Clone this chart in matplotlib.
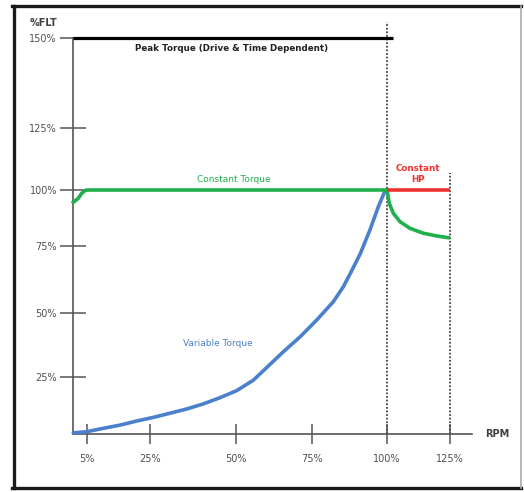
import numpy as np
import matplotlib.pyplot as plt
from matplotlib.lines import Line2D

# axis ticks (% of rated speed / % full load torque)
rpm_ticks = [5, 25, 50, 75, 100, 125]
rpm_labels = ['5%', '25%', '50%', '75%', '100%', '125%']
flt_ticks = [25, 50, 75, 100, 125, 150]
flt_labels = ['25%', '50%', '75%', '100%', '125%', '150%']

# variable torque curve
vt_rpm = [0.1, 4.9, 10.2, 15.5, 20.8, 26.0, 30.8, 35.7, 40.5, 45.3, 50.2, 55.7,
          60.1, 65.6, 71.1, 76.6, 82.1, 85.4, 87.7, 91.0, 94.3, 97.1, 99.3, 100]
vt_flt = [0.5, 1.0, 2.5, 3.9, 5.7, 7.3, 9.1, 11.0, 13.2, 15.9, 19.0, 23.6,
          28.7, 34.9, 40.7, 47.3, 54.2, 59.7, 64.6, 71.9, 82.1, 92.5, 99.5, 100]

# constant torque (green) up to base speed
ct_rpm = [0.1, 1.9, 3.1, 4.3, 5, 100]
ct_flt = [94.5, 96.3, 98.5, 99.7, 100, 100]

# torque falling off above base speed (green)
fw_rpm = [100, 100.9, 102.5, 105.2, 109.1, 114.4, 119.7, 124.3]
fw_flt = [100, 94.1, 89.6, 85.8, 82.9, 80.7, 79.5, 78.7]

# constant HP (red) and peak torque (black)
hp_rpm = [100, 125]
hp_flt = [100, 100]
pk_rpm = [0, 102.4]
pk_flt = [150, 150]

W, H = 524, 492

# the sketch has uneven tick spacing -> piecewise scales
x_knots = [-30, 0, 5, 25, 50, 75, 100, 125, 160]
x_px = [-11, 73, 87, 150, 236, 312, 387, 450, 538]
y_knots = [-40, 0, 25, 50, 75, 100, 125, 150, 170]
y_px = [H - p for p in [525, 434, 377, 313, 246, 190, 128, 38, -34]]

fx = lambda v: np.interp(np.asarray(v, float), x_knots, x_px)
ix = lambda t: np.interp(np.asarray(t, float), x_px, x_knots)
fy = lambda v: np.interp(np.asarray(v, float), y_knots, y_px)
iy = lambda t: np.interp(np.asarray(t, float), y_px, y_knots)

fig = plt.figure(figsize=(W / 100, H / 100), dpi=100)
ax = fig.add_axes([0, 0, 1, 1])
ax.set_xscale('function', functions=(fx, ix))
ax.set_yscale('function', functions=(fy, iy))
ax.set_xlim(float(ix(0)), float(ix(W)))
ax.set_ylim(float(iy(0)), float(iy(H)))
ax.patch.set_alpha(0)

axc = '#555555'
for s in ['top', 'right']:
    ax.spines[s].set_visible(False)
ax.spines['left'].set_position(('data', 0))
ax.spines['bottom'].set_position(('data', 0))
ax.spines['left'].set_bounds(0, 150)
ax.spines['bottom'].set_bounds(0, 133.7)
for s in ['left', 'bottom']:
    ax.spines[s].set_color(axc)
    ax.spines[s].set_linewidth(1.2)

ax.set_xticks(rpm_ticks, rpm_labels)
ax.set_yticks(flt_ticks, flt_labels)
ax.minorticks_off()
ax.tick_params(axis='y', direction='inout', length=18.7, width=1.1, color=axc,
               labelsize=7, labelcolor='#505050', pad=2.2)
ax.tick_params(axis='x', direction='inout', length=14.4, width=1.1, color=axc,
               labelsize=7, labelcolor='#505050', pad=7)

green = '#1fb04c'
red = '#f2302e'
blue = '#4a80cc'

# dotted guides at base speed and max speed
ax.plot([100, 100], [0, 154.4], color='#444444', lw=1.3, ls=(0, (1, 1)), zorder=2)
ax.plot([125, 125], [0, 107], color='#444444', lw=1.3, ls=(0, (1, 1)), zorder=2)

ax.plot(pk_rpm, pk_flt, color='black', lw=2.3, zorder=3, solid_capstyle='butt')
ax.plot(vt_rpm, vt_flt, color=blue, lw=2.6, zorder=3, solid_capstyle='round')
ax.plot(ct_rpm, ct_flt, color=green, lw=2.6, zorder=4)
ax.plot(fw_rpm, fw_flt, color=green, lw=2.6, zorder=3)
ax.plot(hp_rpm, hp_flt, color=red, lw=2.6, zorder=4, solid_capstyle='butt')

ax.text(-5.7, 154.2, '%FLT', ha='right', va='center', fontsize=7,
        fontweight='bold', color='#404040')
ax.text(143.7, 0, 'RPM', ha='center', va='center', fontsize=7,
        fontweight='bold', color='#404040')
ax.text(48.7, 147, 'Peak Torque (Drive & Time Dependent)', ha='center',
        va='center', fontsize=6.3, fontweight='bold', color='#222222')
ax.text(49.4, 104.1, 'Constant Torque', ha='center', va='center',
        fontsize=6.5, color=green)
ax.text(112.3, 106.6, 'Constant\nHP', ha='center', va='center',
        fontsize=6.3, fontweight='bold', color=red, linespacing=1.3)
ax.text(44.8, 37.9, 'Variable Torque', ha='center', va='center',
        fontsize=6.5, color=blue)

# picture frame
tf = fig.transFigure
fig.add_artist(Line2D([13.5 / W, 13.5 / W], [1 - 5.5 / H, 1 - 488 / H], color='#1a1a1a', lw=2.4, transform=tf))
fig.add_artist(Line2D([12 / W, 521 / W], [1 - 5.5 / H, 1 - 5.5 / H], color='#1a1a1a', lw=2.4, transform=tf))
fig.add_artist(Line2D([12 / W, 521 / W], [1 - 488 / H, 1 - 488 / H], color='#1a1a1a', lw=2.4, transform=tf))
fig.add_artist(Line2D([520.5 / W, 520.5 / W], [1 - 5.5 / H, 1 - 488 / H], color='#aaaaaa', lw=1.2, transform=tf))

fig.savefig('out.png', dpi=100)
